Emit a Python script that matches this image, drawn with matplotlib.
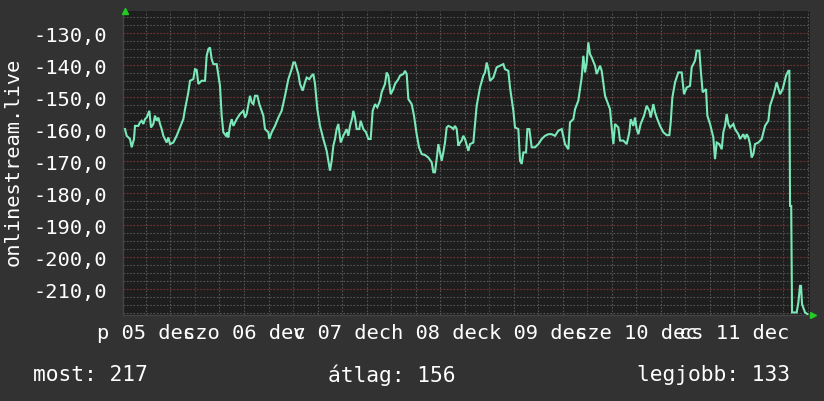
import matplotlib
matplotlib.use("Agg")
import matplotlib.pyplot as plt

# hours since 05 dec 00:00
hours = [
    6.86, 7.27, 8.08, 8.49, 9.06, 9.31, 10.12, 10.53, 10.94, 11.35, 11.76, 12.16, 12.82, 13.23,
    13.80, 14.20, 14.61, 15.02, 15.43, 15.84, 16.25, 17.06, 17.47, 17.88, 18.69, 19.51, 20.33,
    21.14, 21.55, 22.37, 22.78, 23.59, 24.00, 24.41, 24.82, 25.63, 26.45, 26.86, 27.27, 27.67,
    28.08, 28.49, 29.31, 30.12, 30.53, 30.94, 31.59, 31.92, 32.16, 32.57, 32.98, 33.39, 34.20,
    35.02, 35.84, 36.24, 36.65, 37.47, 37.88, 38.29, 38.69, 39.27, 39.75, 40.73, 41.14, 41.96,
    42.20, 42.78, 43.59, 44.41, 45.22, 46.04, 46.86, 47.67, 48.08, 48.49, 49.31, 49.71, 50.37,
    50.94, 51.35, 52.00, 52.57, 52.98, 53.39, 53.96, 54.61, 55.43, 56.24, 57.06, 57.47, 57.88,
    58.28, 58.69, 59.10, 59.67, 60.32, 61.14, 61.55, 61.96, 62.53, 62.77, 63.18, 63.59, 64.24,
    64.57, 65.22, 65.88, 66.45, 67.02, 67.51, 68.08, 68.65, 69.31, 69.71, 70.53, 70.94, 71.35,
    71.92, 72.57, 72.98, 73.80, 74.20, 75.02, 75.43, 75.84, 76.24, 77.06, 77.63, 78.28, 78.86,
    79.51, 80.32, 81.14, 81.96, 82.37, 82.77, 83.18, 83.59, 84.00, 84.41, 84.81, 85.22, 85.63,
    86.04, 86.85, 87.26, 87.67, 88.08, 88.49, 88.90, 89.30, 89.71, 90.12, 90.94, 91.34, 92.16,
    92.57, 92.98, 93.79, 94.61, 95.02, 95.43, 95.83, 96.24, 97.06, 97.87, 98.69, 99.51, 99.92,
    100.73, 101.14, 101.96, 102.36, 103.18, 103.59, 104.00, 104.41, 105.06, 105.39, 105.87,
    106.45, 107.26, 108.08, 108.90, 109.71, 110.53, 111.34, 112.16, 112.98, 113.79, 114.61,
    115.43, 115.83, 116.65, 117.06, 117.87, 118.69, 119.10, 119.51, 119.92, 120.32, 120.73,
    121.14, 121.96, 122.36, 123.18, 123.59, 124.41, 125.63, 126.04, 126.45, 126.85, 127.67,
    128.08, 128.90, 129.71, 130.36, 130.69, 131.34, 131.75, 132.16, 132.57, 133.14, 133.96,
    134.61, 135.26, 135.59, 136.24, 136.65, 137.22, 137.87, 138.69, 139.51, 140.16, 140.49,
    140.90, 141.55, 142.36, 143.18, 143.75, 144.40, 145.22, 145.63, 146.45, 146.85, 147.51,
    147.83, 148.32, 149.14, 149.46, 150.12, 150.93, 151.34, 151.75, 152.40, 152.98, 153.38,
    153.79, 154.20, 154.61, 155.02, 155.83, 156.24, 157.06, 157.47, 158.28, 158.69, 159.10,
    159.51, 159.91, 160.32, 160.73, 161.14, 161.96, 162.77, 163.59, 164.40, 164.81, 165.63,
    166.44, 167.26, 167.91, 168.73, 169.30, 169.55, 169.71, 169.95, 170.00, 170.20, 171.34,
    171.75, 172.16, 172.40, 172.65, 173.38, 173.96,
]
values = [
    -160.0, -162.1, -163.1, -165.7, -163.1, -159.0, -159.0, -157.9, -157.4, -158.4, -156.9, -156.4, -154.3, -159.5,
    -158.4, -155.8, -157.4, -156.4, -158.4, -160.0, -162.1, -164.2, -162.6, -164.7, -164.2, -162.1, -159.5,
    -156.9, -153.8, -148.5, -144.9, -144.4, -141.3, -141.5, -145.9, -144.9, -144.9, -137.1, -135.0, -134.5,
    -138.1, -139.7, -139.7, -146.5, -155.8, -161.0, -162.1, -161.0, -162.6, -159.0, -156.9, -159.0, -156.9,
    -155.3, -154.3, -156.4, -155.3, -149.6, -151.7, -152.2, -149.6, -149.6, -152.2, -155.8, -160.0, -161.0,
    -163.1, -161.0, -159.0, -156.4, -154.3, -149.6, -144.4, -141.3, -139.2, -139.2, -142.8, -145.9, -148.0,
    -145.4, -143.9, -144.4, -143.3, -142.8, -145.9, -153.8, -159.0, -163.1, -166.8, -173.0, -169.9, -165.2,
    -163.1, -160.0, -158.4, -164.2, -162.1, -160.0, -162.1, -159.0, -156.4, -154.3, -156.4, -160.0, -160.0,
    -157.4, -160.0, -161.0, -163.1, -163.1, -154.3, -152.2, -153.2, -151.1, -148.5, -145.9, -142.3, -143.3,
    -149.1, -147.5, -145.9, -144.4, -143.3, -142.8, -141.8, -142.8, -150.6, -152.2, -155.8, -161.6, -165.7,
    -167.8, -168.1, -168.9, -170.4, -173.5, -173.5, -169.4, -164.7, -167.3, -169.9, -167.3, -164.2, -159.5,
    -159.0, -159.5, -160.0, -159.0, -160.0, -165.2, -164.2, -163.6, -162.1, -163.1, -166.8, -164.7, -164.2,
    -158.4, -152.7, -147.0, -143.3, -142.3, -139.2, -141.3, -144.9, -143.9, -140.7, -140.2, -139.7, -141.3,
    -141.8, -147.0, -154.3, -159.5, -160.0, -169.9, -170.9, -167.3, -167.3, -160.0, -160.0,
    -165.7, -165.7, -164.7, -163.1, -162.1, -161.6, -161.6, -162.1, -160.5, -160.0, -164.7,
    -166.3, -157.9, -156.9, -153.8, -151.1, -143.9, -137.1, -142.3, -139.2, -132.9, -136.6,
    -137.6, -140.2, -142.8, -140.2, -141.8, -149.6, -153.8, -159.5, -164.7, -158.4, -159.5,
    -163.6, -163.6, -164.7, -161.0, -156.9, -159.0, -156.4, -160.0, -161.6, -158.4, -155.8,
    -152.7, -154.3, -156.4, -152.2, -154.8, -156.9, -159.0, -161.0, -161.9, -161.9, -157.9,
    -150.1, -145.4, -142.3, -142.3, -149.1, -147.0, -146.5, -140.7, -138.6, -135.5, -135.5,
    -141.3, -148.5, -147.5, -155.8, -158.4, -162.6, -169.4, -164.2, -164.7, -166.3, -161.0,
    -159.0, -155.3, -158.4, -159.5, -158.4, -160.0, -161.6, -163.1, -161.6, -163.1, -161.6,
    -162.6, -164.7, -168.9, -167.8, -164.7, -164.2, -163.1, -159.0, -157.4, -152.7, -149.6,
    -145.4, -149.1, -147.5, -143.3, -141.8, -141.8, -184.0, -184.0, -184.0, -217.3, -217.3,
    -214.2, -209.0, -209.0, -214.7, -217.3, -217.8,
]

day_labels = ["p 05 dec", "szo 06 dec", "v 07 dec", "h 08 dec", "k 09 dec", "sze 10 dec", "cs 11 dec"]
y_ticks = [-130, -140, -150, -160, -170, -180, -190, -200, -210]
legend_items = [("most: 217", 33), ("átlag: 156", 328), ("legjobb: 133", 637)]

BG = "#323232"
PLOT_BG = "#1e1e1e"
LINE = "#7ae8b8"
MINOR = "#555555"
MAJOR = "#7a3434"
TEXT = "#ffffff"
FONT = "DejaVu Sans Mono"

W, H = 824, 402
fig = plt.figure(figsize=(W / 100, H / 100), dpi=100, facecolor=BG)
ax = fig.add_axes([123 / W, (H - 316) / H, (810 - 123) / W, (316 - 12) / H])
ax.set_facecolor(PLOT_BG)

xmin, xmax = 6.37, 174.6
ymin, ymax = -218.1, -123.1

# -------------------------
# grid: minor dotted gray, major dotted red
# -------------------------
dots = (0, (1.5, 1.5))
h = 0
while h <= xmax:
    if h >= xmin:
        major = h % 24 == 0
        ax.axvline(h, color=MAJOR if major else MINOR, lw=0.8, ls=dots, zorder=1)
    h += 6
v = -217.5
while v <= ymax:
    if v >= ymin:
        major = abs(v % 10) < 1e-6
        ax.axhline(v, color=MAJOR if major else MINOR, lw=0.8, ls=dots, zorder=1)
    v += 2.5

ax.plot(hours, values, color=LINE, lw=1.5, zorder=3, solid_joinstyle="miter")

ax.set_xlim(xmin, xmax)
ax.set_ylim(ymin, ymax)

ax.set_xticks([12 + 24 * i for i in range(len(day_labels))])
ax.set_xticklabels(day_labels)
ax.set_yticks(y_ticks)
ax.set_yticklabels([f"{t:.1f}".replace(".", ",") for t in y_ticks])
ax.tick_params(axis="x", length=0, pad=6, colors=TEXT, labelsize=14.7)
ax.tick_params(axis="y", length=0, pad=11.5, colors=TEXT, labelsize=14.7)
for lab in ax.get_xticklabels() + ax.get_yticklabels():
    lab.set_family(FONT)

for side in ["top", "right"]:
    ax.spines[side].set_visible(False)
for side in ["left", "bottom"]:
    ax.spines[side].set_color("#444444")
    ax.spines[side].set_linewidth(1)

# little green arrows at the axis ends
ax.plot([0.003], [1.0], marker="^", color="#22cc22", ms=5, transform=ax.transAxes,
        clip_on=False, zorder=5)
ax.plot([1.005], [0.0], marker=">", color="#22cc22", ms=5, transform=ax.transAxes,
        clip_on=False, zorder=5)

fig.text(13 / W, (H - 162) / H, "onlinestream.live", rotation=90, ha="center", va="center",
         color=TEXT, fontsize=14.7, family=FONT)

for txt, x in legend_items:
    fig.text(x / W, (H - 375) / H, txt, ha="left", va="center", color=TEXT,
             fontsize=15.3, family=FONT)

fig.savefig("out.png", dpi=100, facecolor=BG)
